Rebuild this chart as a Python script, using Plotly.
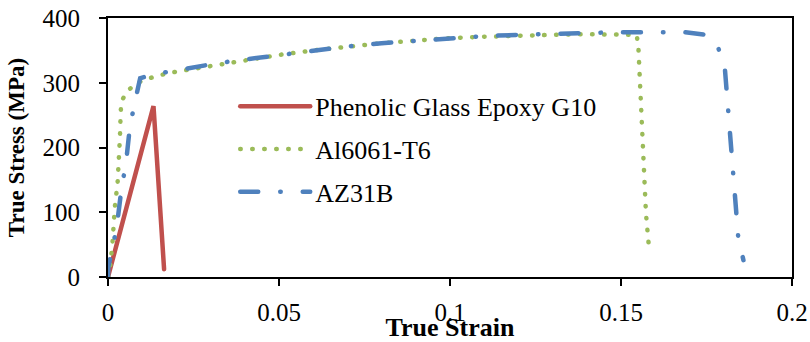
import plotly.graph_objects as go

# ---- data ----
g10_strain = [0, 0.0133, 0.0164]
g10_stress = [0, 264, 12]

al_strain = [0, 0.0004, 0.0013, 0.002, 0.0028, 0.0033, 0.0035, 0.0037, 0.0039, 0.0055, 0.0079,
             0.0108, 0.0142, 0.0176, 0.0245, 0.0347, 0.0415, 0.05, 0.06, 0.07, 0.08, 0.09, 0.1,
             0.11, 0.12, 0.13, 0.14, 0.15, 0.1546, 0.1551, 0.1556, 0.156, 0.1564, 0.1568, 0.1573, 0.1582]
al_stress = [0, 5, 52, 108, 145, 181, 217, 253, 271, 286, 298,
             305, 310, 315, 321, 330, 335, 343, 350, 356, 361, 365, 369,
             371, 373, 374, 375, 375, 374, 353, 299, 263, 207, 155, 98, 44]

az_strain = [0, 0.0001, 0.0025, 0.004, 0.0052, 0.0064, 0.0079, 0.0094, 0.0133, 0.0206, 0.0318,
             0.0386, 0.0508, 0.06, 0.07, 0.08, 0.09, 0.1, 0.11, 0.12, 0.13, 0.14, 0.15, 0.1619,
             0.1687, 0.175, 0.1785, 0.1804, 0.1814, 0.1828, 0.1843, 0.1858]
az_stress = [0, 16, 75, 139, 173, 232, 271, 307, 313, 320, 330,
             335, 343, 350, 356, 361, 365, 369, 372, 374, 376, 377, 378, 378,
             378, 374, 353, 320, 258, 160, 60, 26]

x_ticks = [0, 0.05, 0.1, 0.15, 0.2]
x_labels = ["0", "0.05", "0.1", "0.15", "0.2"]
y_ticks = [0, 100, 200, 300, 400]

FONT = "Liberation Serif, Times New Roman, serif"

fig = go.Figure()
fig.add_trace(go.Scatter(x=g10_strain, y=g10_stress, mode="lines", name="Phenolic Glass Epoxy G10",
                         legendgroup="a", line=dict(color="#C0504D", width=4.5)))
fig.add_trace(go.Scatter(x=al_strain, y=al_stress, mode="lines", name="Al6061-T6",
                         legendgroup="b", line=dict(color="#9BBB59", width=4.5, dash="0.5px,11.5px")))
fig.add_trace(go.Scatter(x=az_strain, y=az_stress, mode="lines", name="AZ31B",
                         legendgroup="c", line=dict(color="#4F81BD", width=4.5, dash="18px,22px,0.5px,22px")))

fig.update_layout(
    width=810, height=342,
    margin=dict(l=108, r=18, t=18, b=65, autoexpand=False),
    paper_bgcolor="white", plot_bgcolor="white",
    font=dict(family=FONT, size=25, color="black"),
    showlegend=True,
    legend=dict(x=0.186, y=0.75, xanchor="left", yanchor="top", bgcolor="rgba(0,0,0,0)",
                traceorder="grouped", tracegroupgap=6, itemwidth=70,
                font=dict(family=FONT, size=26, color="black")),
    xaxis=dict(range=[0, 0.2], tickvals=x_ticks, ticktext=x_labels, ticks="outside", ticklen=7,
               tickwidth=2, tickcolor="black", showline=True, linewidth=2, linecolor="black",
               mirror=True, showgrid=False, zeroline=False, automargin=False,
               tickfont=dict(family=FONT, size=25), ticklabelstandoff=5,
               title=dict(text="<b>True Strain</b>", standoff=3, font=dict(family=FONT, size=26))),
    yaxis=dict(range=[0, 400], tickvals=y_ticks, ticks="outside", ticklen=7,
               tickwidth=2, tickcolor="black", showline=True, linewidth=2, linecolor="black",
               mirror=True, showgrid=False, zeroline=False, automargin=False,
               tickfont=dict(family=FONT, size=25), ticklabelstandoff=14,
               title=dict(text="<b>True Stress (MPa)</b>", standoff=11, font=dict(family=FONT, size=23))),
)

post = ("document.body.style.margin='0';"
        "var s=document.createElement('style');"
        "s.innerHTML='.js-line{stroke-linecap:round !important;} body{margin:0 !important;}';"
        "document.head.appendChild(s);")
fig.write_html("out.html", post_script=post, config={"displayModeBar": False})
